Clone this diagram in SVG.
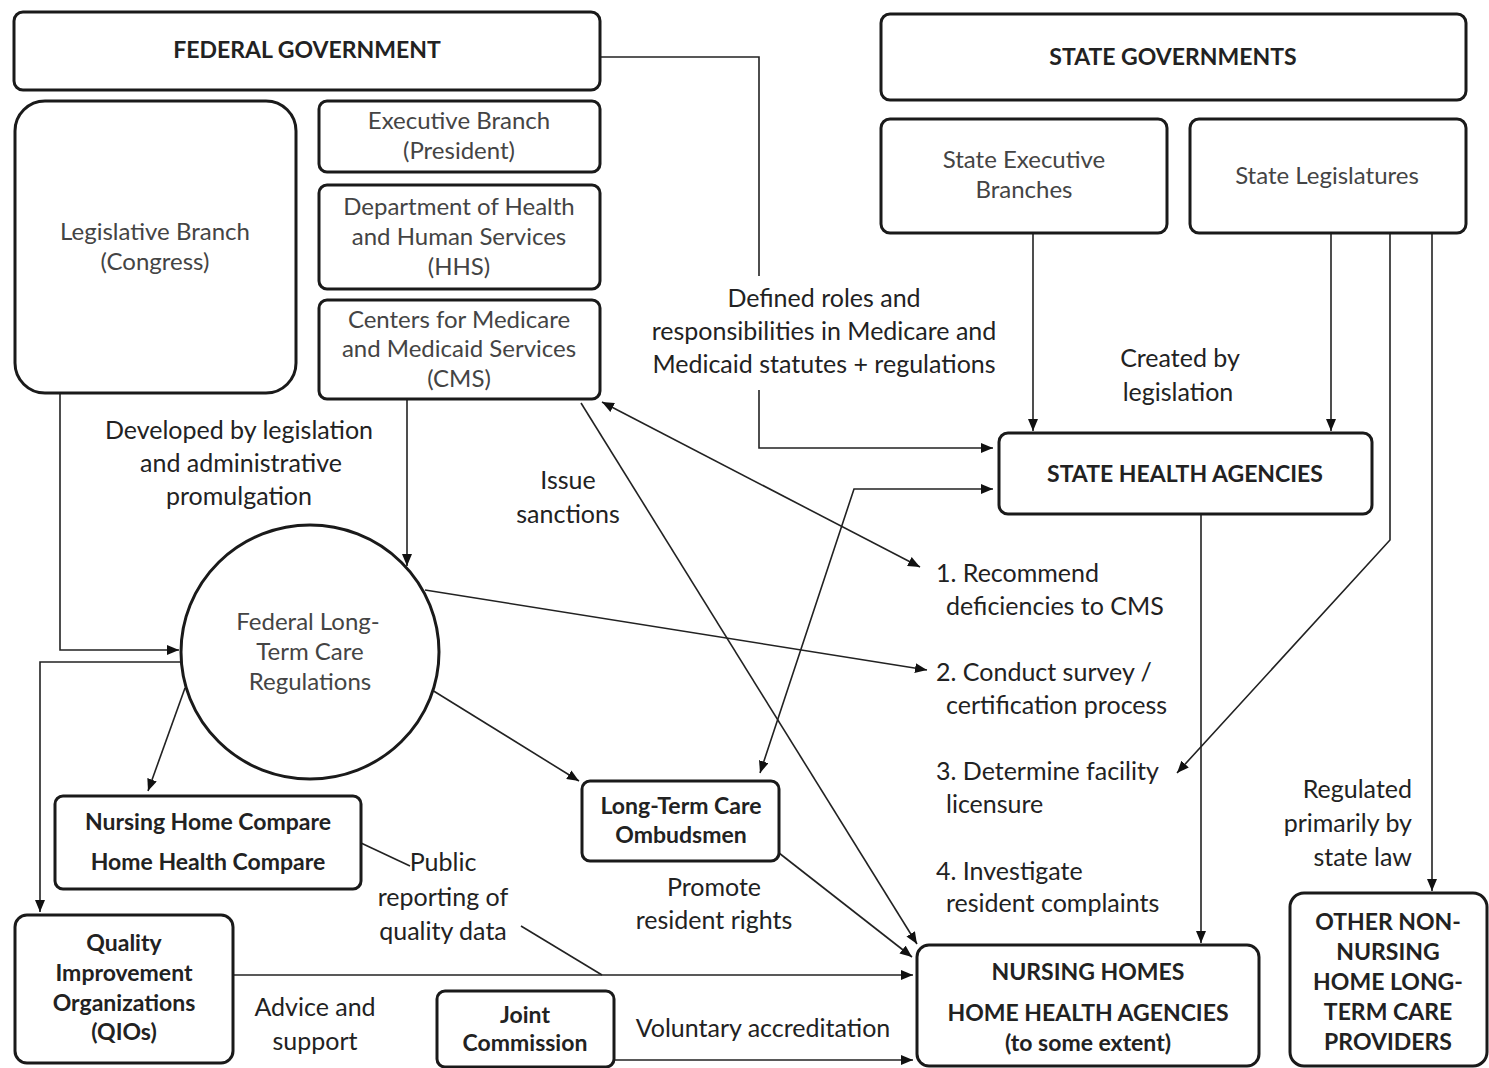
<svg xmlns="http://www.w3.org/2000/svg" width="1489" height="1068" viewBox="0 0 1489 1068">
<defs>
<style>
.box{fill:#fff;stroke:#1a1a1a;stroke-width:3}
.t{font-family:Lato,"Liberation Sans",sans-serif;font-size:24px;fill:#444;text-anchor:middle}
.b{font-family:Lato,"Liberation Sans",sans-serif;font-size:23px;font-weight:bold;fill:#222;text-anchor:middle}
.l{font-family:Lato,"Liberation Sans",sans-serif;font-size:25px;fill:#222;text-anchor:middle}
.ls{text-anchor:start}
.le{text-anchor:end}
.c{fill:none;stroke:#222;stroke-width:1.6}
</style>
<marker id="ah" markerUnits="userSpaceOnUse" viewBox="0 0 12 10" refX="12" refY="5" markerWidth="12" markerHeight="10" orient="auto-start-reverse">
<path d="M0,0 L12,5 L0,10 z" fill="#111"/>
</marker>
</defs>
<rect width="1489" height="1068" fill="#fff"/>

<g id="connectors">
<path class="c" d="M600,57 H759 V276"/>
<path class="c" d="M759,390 V448 H993" marker-end="url(#ah)"/>
<path class="c" d="M1033,233 V431" marker-end="url(#ah)"/>
<path class="c" d="M1331,233 V431" marker-end="url(#ah)"/>
<path class="c" d="M1390,233 V540 L1177,773" marker-end="url(#ah)"/>
<path class="c" d="M1432,233 V891" marker-end="url(#ah)"/>
<path class="c" d="M1201,514 V943" marker-end="url(#ah)"/>
<path class="c" d="M407,399 V566" marker-end="url(#ah)"/>
<path class="c" d="M60,393 V650 H179" marker-end="url(#ah)"/>
<path class="c" d="M181,662 H40 V912" marker-end="url(#ah)"/>
<path class="c" d="M185,688 L148,791" marker-end="url(#ah)"/>
<path class="c" d="M425,590 L927,670" marker-end="url(#ah)"/>
<path class="c" d="M432,690 L579,781" marker-end="url(#ah)"/>
<path class="c" d="M602,402 L920,567" marker-start="url(#ah)" marker-end="url(#ah)"/>
<path class="c" d="M581,403 L917,944" marker-end="url(#ah)"/>
<path class="c" d="M779,853 L912,957" marker-end="url(#ah)"/>
<path class="c" d="M233,975 H913" marker-end="url(#ah)"/>
<path class="c" d="M614,1060 H913" marker-end="url(#ah)"/>
<path class="c" d="M760,773 L854,489 H993" marker-start="url(#ah)" marker-end="url(#ah)"/>
<path class="c" d="M361,843 L410,866"/>
<path class="c" d="M521,926 L602,975"/>
</g>

<g id="federal-government">
<rect class="box" x="14" y="12" width="586" height="78" rx="9"/>
<text class="b" x="307" y="58">FEDERAL GOVERNMENT</text>
</g>
<g id="legislative-branch">
<rect class="box" x="15" y="101" width="281" height="292" rx="30"/>
<text class="t" x="155" y="240">Legislative Branch</text>
<text class="t" x="155" y="270">(Congress)</text>
</g>
<g id="executive-branch">
<rect class="box" x="319" y="101" width="281" height="71" rx="8"/>
<text class="t" x="459" y="129">Executive Branch</text>
<text class="t" x="459" y="159">(President)</text>
</g>
<g id="hhs">
<rect class="box" x="319" y="185" width="281" height="104" rx="8"/>
<text class="t" x="459" y="215">Department of Health</text>
<text class="t" x="459" y="245">and Human Services</text>
<text class="t" x="459" y="275">(HHS)</text>
</g>
<g id="cms">
<rect class="box" x="319" y="300" width="281" height="99" rx="8"/>
<text class="t" x="459" y="328">Centers for Medicare</text>
<text class="t" x="459" y="357">and Medicaid Services</text>
<text class="t" x="459" y="387">(CMS)</text>
</g>
<g id="state-governments">
<rect class="box" x="881" y="14" width="585" height="86" rx="9"/>
<text class="b" x="1173" y="65">STATE GOVERNMENTS</text>
</g>
<g id="state-executive-branches">
<rect class="box" x="881" y="119" width="286" height="114" rx="9"/>
<text class="t" x="1024" y="168">State Executive</text>
<text class="t" x="1024" y="198">Branches</text>
</g>
<g id="state-legislatures">
<rect class="box" x="1190" y="119" width="276" height="114" rx="9"/>
<text class="t" x="1327" y="184">State Legislatures</text>
</g>
<g id="state-health-agencies">
<rect class="box" x="999" y="433" width="373" height="81" rx="9"/>
<text class="b" x="1185" y="482">STATE HEALTH AGENCIES</text>
</g>
<g id="federal-ltc-regulations">
<ellipse class="box" cx="310" cy="652" rx="129" ry="127"/>
<text class="t" x="308" y="630">Federal Long-</text>
<text class="t" x="310" y="660">Term Care</text>
<text class="t" x="310" y="690">Regulations</text>
</g>
<g id="compare-sites">
<rect class="box" x="55" y="796" width="306" height="93" rx="8"/>
<text class="b" x="208" y="830">Nursing Home Compare</text>
<text class="b" x="208" y="870">Home Health Compare</text>
</g>
<g id="ombudsmen">
<rect class="box" x="582" y="781" width="197" height="80" rx="8"/>
<text class="b" x="681" y="814">Long-Term Care</text>
<text class="b" x="681" y="843">Ombudsmen</text>
</g>
<g id="qio">
<rect class="box" x="15" y="915" width="218" height="148" rx="12"/>
<text class="b" x="124" y="951">Quality</text>
<text class="b" x="124" y="981">Improvement</text>
<text class="b" x="124" y="1011">Organizations</text>
<text class="b" x="124" y="1040">(QIOs)</text>
</g>
<g id="joint-commission">
<rect class="box" x="437" y="991" width="177" height="76" rx="8"/>
<text class="b" x="525" y="1023">Joint</text>
<text class="b" x="525" y="1051">Commission</text>
</g>
<g id="nursing-homes">
<rect class="box" x="917" y="945" width="342" height="121" rx="12"/>
<text class="b" x="1088" y="980">NURSING HOMES</text>
<text class="b" x="1088" y="1021">HOME HEALTH AGENCIES</text>
<text class="b" x="1088" y="1051">(to some extent)</text>
</g>
<g id="other-providers">
<rect class="box" x="1290" y="893" width="197" height="173" rx="14"/>
<text class="b" x="1388" y="930">OTHER NON-</text>
<text class="b" x="1388" y="960">NURSING</text>
<text class="b" x="1388" y="990">HOME LONG-</text>
<text class="b" x="1388" y="1020">TERM CARE</text>
<text class="b" x="1388" y="1050">PROVIDERS</text>
</g>

<g id="labels">
<text class="l" x="824" y="307">Defined roles and</text>
<text class="l" x="824" y="340">responsibilities in Medicare and</text>
<text class="l" x="824" y="373">Medicaid statutes + regulations</text>
<text class="l" x="1180" y="367">Created by</text>
<text class="l" x="1178" y="401">legislation</text>
<text class="l" x="239" y="439">Developed by legislation</text>
<text class="l" x="241" y="472">and administrative</text>
<text class="l" x="239" y="505">promulgation</text>
<text class="l" x="568" y="489">Issue</text>
<text class="l" x="568" y="523">sanctions</text>
<text class="l ls" x="936" y="582">1. Recommend</text>
<text class="l ls" x="946" y="615">deficiencies to CMS</text>
<text class="l ls" x="936" y="681">2. Conduct survey /</text>
<text class="l ls" x="946" y="714">certification process</text>
<text class="l ls" x="936" y="780">3. Determine facility</text>
<text class="l ls" x="946" y="813">licensure</text>
<text class="l ls" x="936" y="880">4. Investigate</text>
<text class="l ls" x="946" y="912">resident complaints</text>
<text class="l le" x="1412" y="798">Regulated</text>
<text class="l le" x="1412" y="832">primarily by</text>
<text class="l le" x="1412" y="866">state law</text>
<text class="l" x="443" y="871">Public</text>
<text class="l" x="443" y="906">reporting of</text>
<text class="l" x="443" y="940">quality data</text>
<text class="l" x="714" y="896">Promote</text>
<text class="l" x="714" y="929">resident rights</text>
<text class="l" x="315" y="1016">Advice and</text>
<text class="l" x="315" y="1050">support</text>
<text class="l" x="763" y="1037">Voluntary accreditation</text>
</g>
</svg>
